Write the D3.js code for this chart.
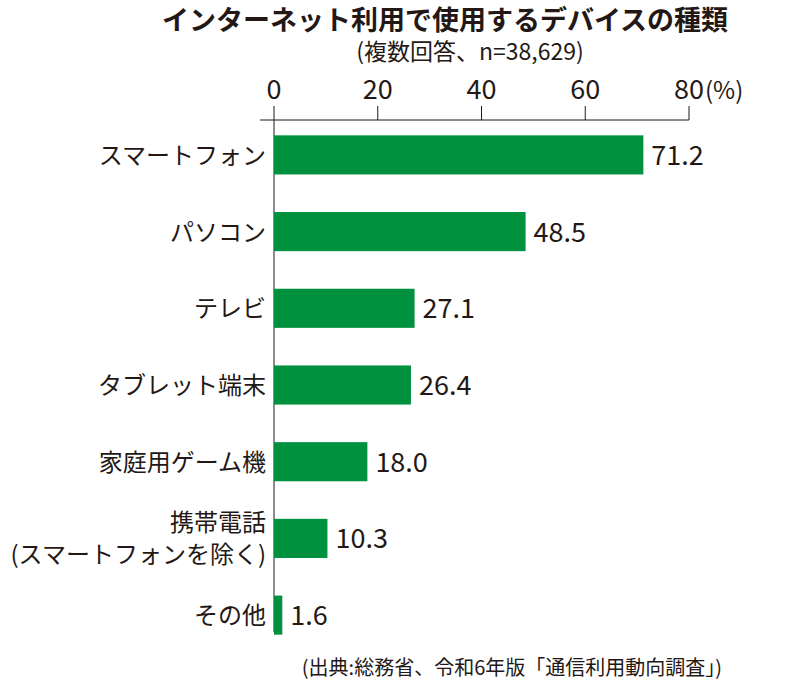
<!DOCTYPE html>
<html><head><meta charset="utf-8">
<script src="https://cdn.jsdelivr.net/npm/d3@7"></script>
<style>body{margin:0;background:#fff}text{font-family:"Noto Sans CJK JP","Noto Sans",sans-serif;fill:#231815}</style>
</head><body><svg id="chart"></svg>
<script>
const categories = ['スマートフォン', 'パソコン', 'テレビ', 'タブレット端末', '家庭用ゲーム機', '携帯電話\n(スマートフォンを除く)', 'その他'];
const values = [71.2, 48.5, 27.1, 26.4, 18.0, 10.3, 1.6];
const ticks = [0, 20, 40, 60, 80];

const width = 800, height = 685;
const svg = d3.select('#chart').attr('width', width).attr('height', height);

const x = d3.scaleLinear().domain([0, 80]).range([274, 689]);
const y = d3.scaleBand().domain(categories).range([120, 650]).paddingInner(0.49).paddingOuter(0.2);

svg.append('text').attr('x', 445).attr('y', 30).attr('text-anchor', 'middle')
	.style('font-size', '27px').style('font-weight', 'bold').text('インターネット利用で使用するデバイスの種類');
svg.append('text').attr('x', 470).attr('y', 60).attr('text-anchor', 'middle')
	.style('font-size', '23px').text('(複数回答、n=38,629)');

// axis
svg.append('line').attr('x1', 260).attr('x2', x(80)).attr('y1', 120).attr('y2', 120).attr('stroke', '#231815');
svg.append('line').attr('x1', x(0)).attr('x2', x(0)).attr('y1', 106).attr('y2', 632).attr('stroke', '#231815');
svg.selectAll('.tick').data(ticks.slice(1)).join('line')
	.attr('x1', d => x(d)).attr('x2', d => x(d)).attr('y1', 106).attr('y2', 120).attr('stroke', '#231815');
svg.selectAll('.tl').data(ticks).join('text')
	.attr('x', d => x(d)).attr('y', 99).attr('text-anchor', 'middle').style('font-size', '27px')
	.text(d => d);
svg.append('text').attr('x', x(80) + 16).attr('y', 99).style('font-size', '24px').text('(%)');

svg.selectAll('.bar').data(values).join('rect')
	.attr('x', x(0)).attr('y', (d, i) => y(categories[i])).attr('width', d => x(d) - x(0))
	.attr('height', y.bandwidth()).attr('fill', '#00913f');

svg.selectAll('.val').data(values).join('text')
	.attr('x', d => x(d) + 8).attr('y', (d, i) => y(categories[i]) + y.bandwidth() / 2 + 10)
	.style('font-size', '27px').text(d => d.toFixed(1));

categories.forEach(c => {
	const lines = c.split('\n');
	const cy = y(c) + y.bandwidth() / 2;
	lines.forEach((l, j) => {
		svg.append('text').attr('x', 266).attr('text-anchor', 'end')
			.attr('y', cy + 9 + (j - (lines.length - 1) / 2) * 32)
			.style('font-size', '24px').text(l);
	});
});

svg.append('text').attr('x', 722).attr('y', 675).attr('text-anchor', 'end')
	.style('font-size', '20px').text('(出典:総務省、令和6年版「通信利用動向調査」)');
</script></body></html>
